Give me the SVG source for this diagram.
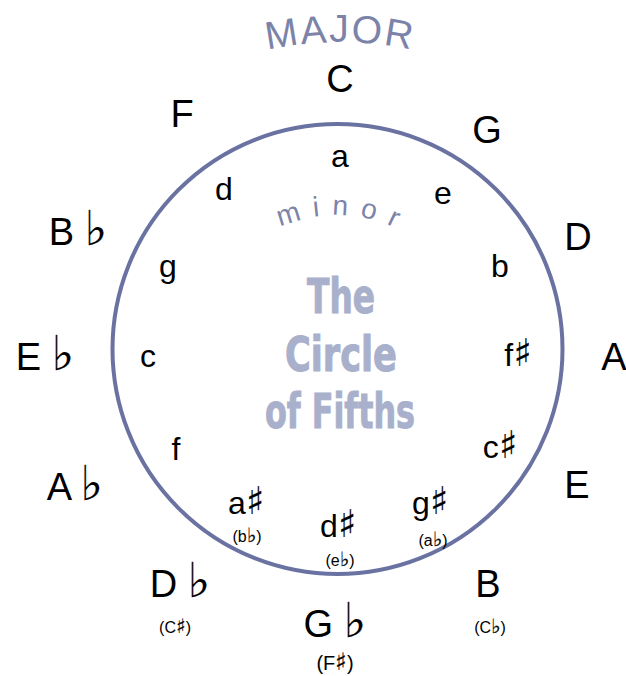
<svg xmlns="http://www.w3.org/2000/svg" width="626" height="676" viewBox="0 0 626 676">
<style>
.maj{font-family:"Liberation Sans","DejaVu Sans",sans-serif;font-size:38px;fill:#000;text-anchor:middle}
.min{font-family:"Liberation Sans","DejaVu Sans",sans-serif;font-size:32px;fill:#000;text-anchor:middle}
.enh{font-family:"Liberation Sans","DejaVu Sans",sans-serif;font-size:16px;fill:#000;text-anchor:middle}
.enh2{font-family:"Liberation Sans","DejaVu Sans",sans-serif;font-size:20px;fill:#000;text-anchor:middle}
.acc{font-family:"DejaVu Sans","DejaVu Serif",sans-serif;fill:#000;stroke:#000;stroke-width:0.2}
.title{font-family:"Liberation Sans Narrow","DejaVu Sans",sans-serif;font-stretch:condensed;font-weight:700;font-size:48px;fill:#a9b0cb;stroke:#a9b0cb;stroke-width:1;text-anchor:middle}
.arc{font-family:"Liberation Sans","DejaVu Sans",sans-serif;fill:#7c83a9}
</style>
<defs>
<path id="majorArc" d="M 40 212 A 350 350 0 0 1 640 212"/>
<path id="minorArc" d="M 200 352 A 137 137 0 0 1 474 352"/>
</defs>
<rect width="626" height="676" fill="#fff"/>
<circle id="ring" cx="337.5" cy="349" r="225" fill="none" stroke="#6a72a2" stroke-width="4"/>
<g id="label-major"><text class="arc" font-size="39" letter-spacing="2" text-anchor="middle"><textPath href="#majorArc" startOffset="50%">MAJOR</textPath></text></g>
<g id="label-minor"><text class="arc" font-size="28" letter-spacing="12" text-anchor="middle"><textPath href="#minorArc" startOffset="51.5%">minor</textPath></text></g>
<g id="title">
<text class="title" x="341" y="313" textLength="68" lengthAdjust="spacingAndGlyphs">The</text>
<text class="title" x="341" y="371" textLength="112" lengthAdjust="spacingAndGlyphs">Circle</text>
<text class="title" x="340" y="428" textLength="150" lengthAdjust="spacingAndGlyphs">of Fifths</text>
</g>
<g id="major-C"><text class="maj" x="340" y="92">C</text></g>
<g id="major-G"><text class="maj" x="487" y="143">G</text></g>
<g id="major-D"><text class="maj" x="578" y="250">D</text></g>
<g id="major-A"><text class="maj" x="614" y="370">A</text></g>
<g id="major-E"><text class="maj" x="577" y="498">E</text></g>
<g id="major-B"><text class="maj" x="488" y="597">B</text><text class="enh" x="490" y="633">(C<tspan class="acc" font-size="20">♭︎</tspan>)</text></g>
<g id="major-Gb"><text class="maj" x="335" y="637">G <tspan class="acc" font-size="48">♭︎</tspan></text><text class="enh2" x="335" y="670">(F<tspan class="acc" font-size="24">♯︎</tspan>)</text></g>
<g id="major-Db"><text class="maj" x="180" y="597">D <tspan class="acc" font-size="48">♭︎</tspan></text><text class="enh" x="175" y="633">(C<tspan class="acc" font-size="20">♯︎</tspan>)</text></g>
<g id="major-Ab"><text class="maj" x="75" y="500">A <tspan class="acc" font-size="48">♭︎</tspan></text></g>
<g id="major-Eb"><text class="maj" x="45" y="370">E <tspan class="acc" font-size="48">♭︎</tspan></text></g>
<g id="major-Bb"><text class="maj" x="78" y="245">B <tspan class="acc" font-size="48">♭︎</tspan></text></g>
<g id="major-F"><text class="maj" x="182" y="127">F</text></g>
<g id="minor-a"><text class="min" x="340" y="167">a</text></g>
<g id="minor-e"><text class="min" x="443" y="204">e</text></g>
<g id="minor-b"><text class="min" x="500" y="277">b</text></g>
<g id="minor-fs"><text class="min" x="518" y="366">f<tspan class="acc" font-size="38">♯︎</tspan></text></g>
<g id="minor-cs"><text class="min" x="500" y="458">c<tspan class="acc" font-size="38">♯︎</tspan></text></g>
<g id="minor-gs"><text class="min" x="430" y="514">g<tspan class="acc" font-size="38">♯︎</tspan></text><text class="enh" x="433" y="546">(a<tspan class="acc" font-size="20">♭︎</tspan>)</text></g>
<g id="minor-ds"><text class="min" x="338" y="537">d<tspan class="acc" font-size="38">♯︎</tspan></text><text class="enh" x="340" y="566">(e<tspan class="acc" font-size="20">♭︎</tspan>)</text></g>
<g id="minor-as"><text class="min" x="246" y="514">a<tspan class="acc" font-size="38">♯︎</tspan></text><text class="enh" x="247" y="542">(b<tspan class="acc" font-size="20">♭︎</tspan>)</text></g>
<g id="minor-f"><text class="min" x="176" y="460">f</text></g>
<g id="minor-c"><text class="min" x="148" y="367">c</text></g>
<g id="minor-g"><text class="min" x="168" y="277">g</text></g>
<g id="minor-d"><text class="min" x="224" y="200">d</text></g>
<g id="connectors"></g>
</svg>
